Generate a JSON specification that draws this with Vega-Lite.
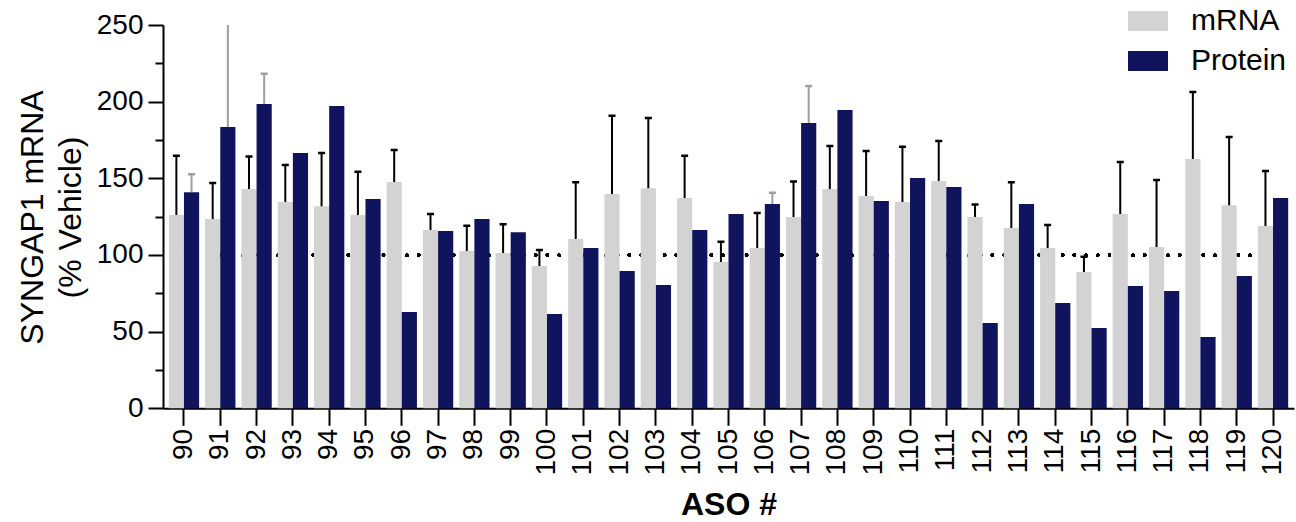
{
  "$schema": "https://vega.github.io/schema/vega-lite/v6.json",
  "width": 1131,
  "height": 383.3,
  "autosize": {"type": "none"},
  "padding": {"left": 163, "top": 25, "right": 2, "bottom": 113.7},
  "background": "white",
  "data": {"values": [
    {"aso": "90", "series": "mRNA", "value": 126.1, "upper": 164.7},
    {"aso": "90", "series": "Protein", "value": 140.9, "upper": 152.6},
    {"aso": "91", "series": "mRNA", "value": 123.5, "upper": 146.9},
    {"aso": "91", "series": "Protein", "value": 183.5, "upper": 258},
    {"aso": "92", "series": "mRNA", "value": 143.0, "upper": 164.3},
    {"aso": "92", "series": "Protein", "value": 198.5, "upper": 218.2},
    {"aso": "93", "series": "mRNA", "value": 134.5, "upper": 158.7},
    {"aso": "93", "series": "Protein", "value": 166.5, "upper": null},
    {"aso": "94", "series": "mRNA", "value": 131.8, "upper": 166.5},
    {"aso": "94", "series": "Protein", "value": 197.2, "upper": null},
    {"aso": "95", "series": "mRNA", "value": 126.1, "upper": 154.3},
    {"aso": "95", "series": "Protein", "value": 136.5, "upper": null},
    {"aso": "96", "series": "mRNA", "value": 147.6, "upper": 168.5},
    {"aso": "96", "series": "Protein", "value": 62.8, "upper": null},
    {"aso": "97", "series": "mRNA", "value": 116.3, "upper": 126.7},
    {"aso": "97", "series": "Protein", "value": 115.6, "upper": null},
    {"aso": "98", "series": "mRNA", "value": 102.6, "upper": 119.1},
    {"aso": "98", "series": "Protein", "value": 123.5, "upper": null},
    {"aso": "99", "series": "mRNA", "value": 101.3, "upper": 120.0},
    {"aso": "99", "series": "Protein", "value": 114.9, "upper": null},
    {"aso": "100", "series": "mRNA", "value": 92.8, "upper": 103.2},
    {"aso": "100", "series": "Protein", "value": 61.5, "upper": null},
    {"aso": "101", "series": "mRNA", "value": 110.4, "upper": 147.4},
    {"aso": "101", "series": "Protein", "value": 104.5, "upper": null},
    {"aso": "102", "series": "mRNA", "value": 139.8, "upper": 190.8},
    {"aso": "102", "series": "Protein", "value": 89.6, "upper": null},
    {"aso": "103", "series": "mRNA", "value": 143.6, "upper": 189.3},
    {"aso": "103", "series": "Protein", "value": 80.5, "upper": null},
    {"aso": "104", "series": "mRNA", "value": 137.1, "upper": 164.7},
    {"aso": "104", "series": "Protein", "value": 116.3, "upper": null},
    {"aso": "105", "series": "mRNA", "value": 95.4, "upper": 108.7},
    {"aso": "105", "series": "Protein", "value": 126.7, "upper": null},
    {"aso": "106", "series": "mRNA", "value": 104.5, "upper": 127.4},
    {"aso": "106", "series": "Protein", "value": 133.2, "upper": 140.6},
    {"aso": "107", "series": "mRNA", "value": 124.8, "upper": 148.0},
    {"aso": "107", "series": "Protein", "value": 186.1, "upper": 210.2},
    {"aso": "108", "series": "mRNA", "value": 143.0, "upper": 171.1},
    {"aso": "108", "series": "Protein", "value": 194.5, "upper": null},
    {"aso": "109", "series": "mRNA", "value": 138.5, "upper": 167.8},
    {"aso": "109", "series": "Protein", "value": 135.2, "upper": null},
    {"aso": "110", "series": "mRNA", "value": 134.5, "upper": 170.6},
    {"aso": "110", "series": "Protein", "value": 150.2, "upper": null},
    {"aso": "111", "series": "mRNA", "value": 148.2, "upper": 174.3},
    {"aso": "111", "series": "Protein", "value": 144.3, "upper": null},
    {"aso": "112", "series": "mRNA", "value": 124.8, "upper": 133.0},
    {"aso": "112", "series": "Protein", "value": 55.6, "upper": null},
    {"aso": "113", "series": "mRNA", "value": 117.6, "upper": 147.4},
    {"aso": "113", "series": "Protein", "value": 133.2, "upper": null},
    {"aso": "114", "series": "mRNA", "value": 104.5, "upper": 119.5},
    {"aso": "114", "series": "Protein", "value": 68.7, "upper": null},
    {"aso": "115", "series": "mRNA", "value": 88.9, "upper": 98.9},
    {"aso": "115", "series": "Protein", "value": 52.4, "upper": null},
    {"aso": "116", "series": "mRNA", "value": 126.7, "upper": 160.6},
    {"aso": "116", "series": "Protein", "value": 79.8, "upper": null},
    {"aso": "117", "series": "mRNA", "value": 105.2, "upper": 148.9},
    {"aso": "117", "series": "Protein", "value": 76.5, "upper": null},
    {"aso": "118", "series": "mRNA", "value": 162.6, "upper": 206.3},
    {"aso": "118", "series": "Protein", "value": 46.5, "upper": null},
    {"aso": "119", "series": "mRNA", "value": 132.4, "upper": 177.0},
    {"aso": "119", "series": "Protein", "value": 86.3, "upper": null},
    {"aso": "120", "series": "mRNA", "value": 118.9, "upper": 154.8},
    {"aso": "120", "series": "Protein", "value": 137.1, "upper": null}
  ]},
  "resolve": {"scale": {"y": "shared"}, "axis": {"y": "independent"}},
  "layer": [
    {
      "mark": {"type": "rule", "color": "black", "strokeWidth": 3.2, "strokeCap": "round", "strokeDash": [0.01, 11.7], "strokeDashOffset": 2.9},
      "encoding": {
        "y": {"datum": 100, "type": "quantitative", "scale": {"domain": [0, 250], "nice": false},
              "axis": {"orient": "left", "values": [25, 75, 125, 175, 225], "labels": false, "domain": false, "tickSize": 8, "title": null}}
      }
    },
    {
      "mark": {"type": "bar"},
      "encoding": {
        "x": {"field": "aso", "type": "nominal", "sort": null,
              "scale": {"type": "band", "paddingInner": 0.165, "paddingOuter": 0.16},
              "axis": {"title": "ASO #"}},
        "xOffset": {"field": "series", "type": "nominal", "scale": {"domain": ["mRNA", "Protein"], "paddingInner": 0, "paddingOuter": 0}},
        "y": {"field": "value", "type": "quantitative", "scale": {"domain": [0, 250], "nice": false},
              "axis": {"orient": "left", "values": [0, 50, 100, 150, 200, 250],
                       "title": ["SYNGAP1 mRNA", "(% Vehicle)"]}},
        "color": {"field": "series", "type": "nominal",
                  "scale": {"domain": ["mRNA", "Protein"], "range": ["#D3D3D3", "#10145C"]},
                  "legend": {"orient": "none", "legendX": 965, "legendY": -24, "title": null,
                             "symbolType": "M-1,-0.5H1V0.5H-1Z", "symbolSize": 1600, "symbolStrokeWidth": 0,
                             "labelFontSize": 30, "labelOffset": 23, "rowPadding": 5,
                             "labelFont": "Liberation Sans", "labelColor": "black"}}
      }
    },
    {
      "transform": [{"filter": "datum.upper != null"}],
      "mark": {"type": "rule", "strokeWidth": 2, "clip": true},
      "encoding": {
        "x": {"field": "aso", "type": "nominal", "sort": null,
              "scale": {"type": "band", "paddingInner": 0.165, "paddingOuter": 0.16},
              "axis": {"title": "ASO #"}},
        "xOffset": {"field": "series", "type": "nominal", "scale": {"domain": ["mRNA", "Protein"], "paddingInner": 0, "paddingOuter": 0}},
        "y": {"field": "value", "type": "quantitative", "scale": {"domain": [0, 250], "nice": false}, "axis": null},
        "y2": {"field": "upper"},
        "color": {"condition": {"test": "datum.series === 'mRNA'", "value": "black"}, "value": "#9E9E9E"}
      }
    },
    {
      "transform": [{"filter": "datum.upper != null"}],
      "mark": {"type": "tick", "size": 7, "thickness": 2.5, "clip": true, "opacity": 1},
      "encoding": {
        "x": {"field": "aso", "type": "nominal", "sort": null,
              "scale": {"type": "band", "paddingInner": 0.165, "paddingOuter": 0.16},
              "axis": {"title": "ASO #"}},
        "xOffset": {"field": "series", "type": "nominal", "scale": {"domain": ["mRNA", "Protein"], "paddingInner": 0, "paddingOuter": 0}},
        "y": {"field": "upper", "type": "quantitative", "scale": {"domain": [0, 250], "nice": false}, "axis": null},
        "color": {"condition": {"test": "datum.series === 'mRNA'", "value": "black"}, "value": "#9E9E9E"}
      }
    }
  ],
  "config": {
    "view": {"stroke": null},
    "font": "Liberation Sans",
    "axis": {
      "grid": false,
      "domainColor": "black",
      "domainWidth": 2,
      "tickColor": "black",
      "tickWidth": 2,
      "labelFont": "Liberation Sans",
      "labelFontSize": 28,
      "labelColor": "black",
      "titleFont": "Liberation Sans",
      "titleColor": "black"
    },
    "axisX": {
      "labelAngle": -90,
      "tickSize": 17,
      "labelPadding": 3,
      "titleFontSize": 32,
      "titleFontWeight": "bold",
      "titlePadding": 14
    },
    "axisY": {
      "tickSize": 15,
      "labelPadding": 5,
      "titleFontSize": 32,
      "titleFontWeight": "normal",
      "titleX": -121,
      "titleY": 192,
      "titleBaseline": "alphabetic",
      "titleLineHeight": 38,
      "titleAngle": -90
    }
  }
}
